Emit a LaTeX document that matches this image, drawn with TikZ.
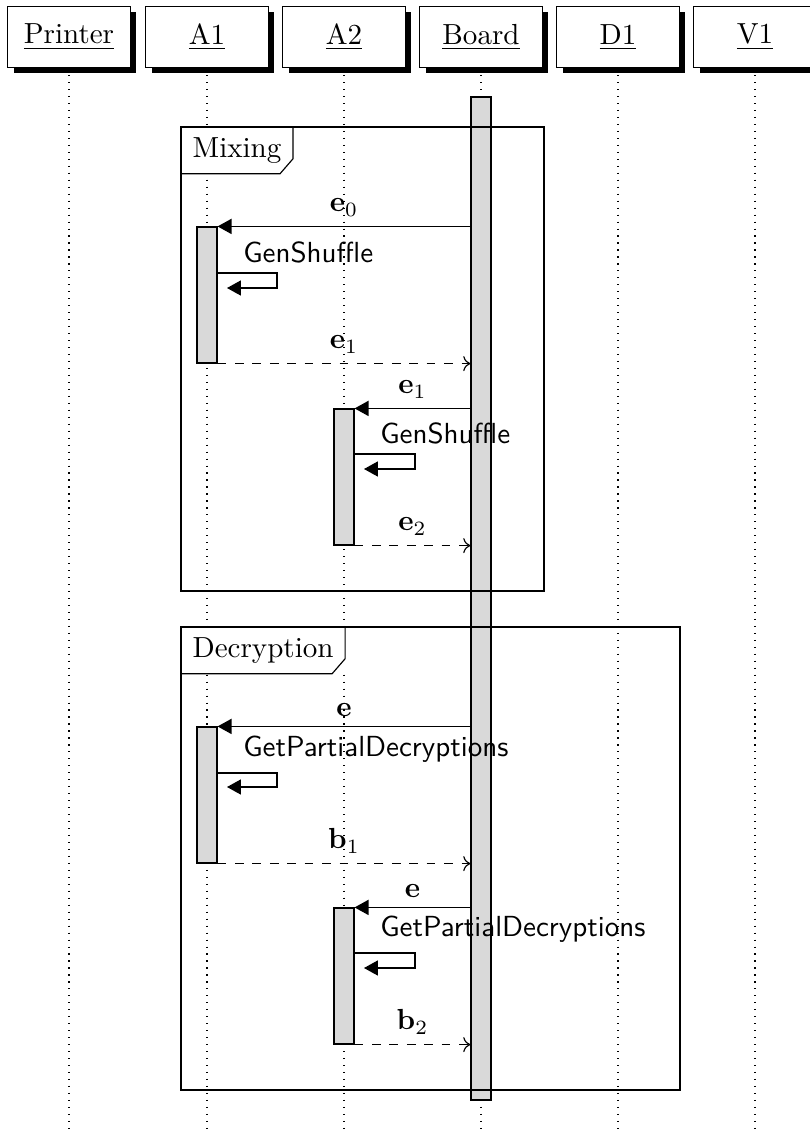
\documentclass[tikz,border=0pt]{standalone}
\usetikzlibrary{arrows.meta,shadows,fit,calc}
\tikzset{
  inst/.style={draw, fill=white, minimum width=1.48cm, minimum height=0.74cm,
    drop shadow={shadow xshift=2pt, shadow yshift=-2pt, opacity=1, fill=black}},
  lifeline/.style={dotted},
  actbar/.style={draw, fill=black!15, inner sep=0pt},
  call/.style={-{Triangle[length=4.8pt,width=5.2pt]}},
  ret/.style={dashed, ->},
  fn/.style={font=\sffamily, anchor=south west},
  tag/.style={fill=white, anchor=north west, inner xsep=3.8pt, inner ysep=3.4pt},
}
\begin{document}
\begin{tikzpicture}[x=0.0121cm, y=-0.0121cm]
    \useasboundingbox (0,0) rectangle (809,1133);
    % instances
    \node[inst] (printer) at (69,37) {\underline{Printer}};
    \node[inst] (a1) at (207,37) {\underline{A1}};
    \node[inst] (a2) at (344,37) {\underline{A2}};
    \node[inst] (board) at (481,37) {\underline{Board}};
    \node[inst] (d1) at (618,37) {\underline{D1}};
    \node[inst] (v1) at (755,37) {\underline{V1}};
    \foreach \n in {printer,a1,a2,board,d1,v1}
        \draw[lifeline] (\n.south) -- (\n.south |- 0,1130);
    \node[actbar, fit={(471,97) (491,1100)}] (boardbar) {};

    % mixing
    \draw (181,127) rectangle (544,591);
    \node[tag] (mixtag) at (181,127) {Mixing};
    \draw (mixtag.north east) -- ($(mixtag.south east)+(0,-15)$)
        -- ($(mixtag.south east)+(-13,0)$) -- (mixtag.south west);
    \node[actbar, fit={(197,227) (217,363)}] (a1mix) {};
    \draw[call] (boardbar.west |- a1mix.north) -- (a1mix.north east) node[midway, above] {$\mathbf{e}_0$};
    \draw[call] (a1mix.east |- 0,273) -| (277,288) -- (227,288);
    \node[fn] (gs1) at (233,273) {GenShuffle};
    \draw[ret] (a1mix.south east) -- (boardbar.west |- a1mix.south) node[midway, above] {$\mathbf{e}_1$};
    \node[actbar, fit={(334,409) (354,545)}] (a2mix) {};
    \draw[call] (boardbar.west |- a2mix.north) -- (a2mix.north east) node[midway, above] {$\mathbf{e}_1$};
    \draw[call] (a2mix.east |- 0,454) -| (415,469) -- (364,469);
    \node[fn] (gs2) at (370,454) {GenShuffle};
    \draw[ret] (a2mix.south east) -- (boardbar.west |- a2mix.south) node[midway, above] {$\mathbf{e}_2$};

    % decryption
    \draw (181,627) rectangle (680,1090);
    \node[tag] (dectag) at (181,627) {Decryption};
    \draw (dectag.north east) -- ($(dectag.south east)+(0,-15)$)
        -- ($(dectag.south east)+(-13,0)$) -- (dectag.south west);
    \node[actbar, fit={(197,727) (217,863)}] (a1dec) {};
    \draw[call] (boardbar.west |- a1dec.north) -- (a1dec.north east) node[midway, above] {$\mathbf{e}$};
    \draw[call] (a1dec.east |- 0,773) -| (277,787) -- (227,787);
    \node[fn] (gpd1) at (233,773) {GetPartialDecryptions};
    \draw[ret] (a1dec.south east) -- (boardbar.west |- a1dec.south) node[midway, above] {$\mathbf{b}_1$};
    \node[actbar, fit={(334,908) (354,1044)}] (a2dec) {};
    \draw[call] (boardbar.west |- a2dec.north) -- (a2dec.north east) node[midway, above] {$\mathbf{e}$};
    \draw[call] (a2dec.east |- 0,953) -| (415,968) -- (364,968);
    \node[fn] (gpd2) at (370,953) {GetPartialDecryptions};
    \draw[ret] (a2dec.south east) -- (boardbar.west |- a2dec.south) node[midway, above] {$\mathbf{b}_2$};
\end{tikzpicture}
\end{document}
